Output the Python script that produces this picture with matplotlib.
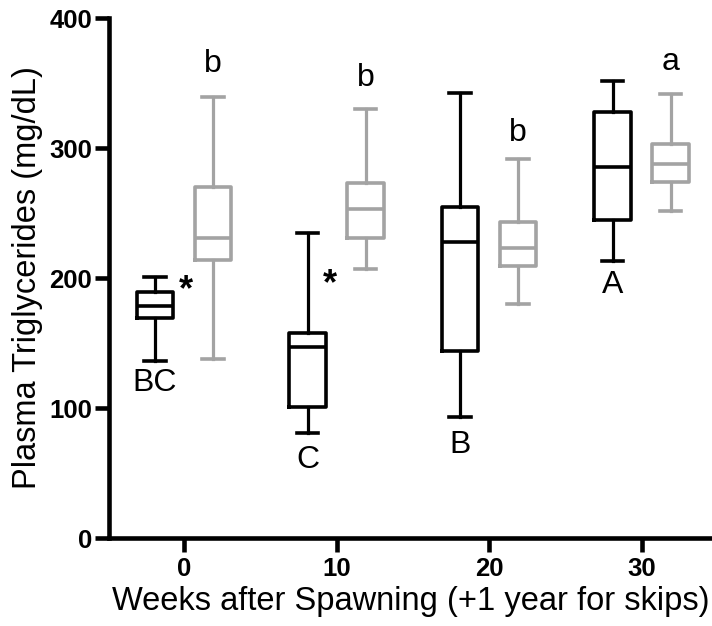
import matplotlib
matplotlib.use('Agg')
import matplotlib.pyplot as plt

plt.rcParams['font.family'] = ['Liberation Sans', 'DejaVu Sans']

# ---- data ----
weeks = [0, 10, 20, 30]
black_lo = [136.5, 81, 93, 213]
black_q1 = [169, 101, 144, 245]
black_med = [178.5, 147, 228, 285.5]
black_q3 = [189, 157.5, 254.5, 327.5]
black_hi = [200.5, 234.5, 342, 351.5]

gray_lo = [138, 207, 180, 251.5]
gray_q1 = [214, 231, 209, 274]
gray_med = [231, 253, 223, 287.5]
gray_q3 = [270, 273, 243, 303]
gray_hi = [339, 330, 291.5, 341.5]

black_letters = ['BC', 'C', 'B', 'A']
black_letter_y = [119, 60, 71.5, 194.5]
gray_letters = ['b', 'b', 'b', 'a']
gray_letter_y = [365, 354, 311.5, 366]
star_x = [0.15, 9.55]
star_y = [190, 194.5]
yticks = [0, 100, 200, 300, 400]
xticks = [0, 10, 20, 30]

offset = 1.9
bw = 2.4
capw = 1.4

fig = plt.figure(figsize=(7.12, 6.26), dpi=100)
ax = fig.add_axes([109/712, 88/626, 603/712, 520/626])

def stats(lo, q1, med, q3, hi):
    return [dict(whislo=a, q1=b, med=c, q3=d, whishi=e, fliers=[])
            for a, b, c, d, e in zip(lo, q1, med, q3, hi)]

for st, pos, col in [
    (stats(black_lo, black_q1, black_med, black_q3, black_hi), [w - offset for w in weeks], 'black'),
    (stats(gray_lo, gray_q1, gray_med, gray_q3, gray_hi), [w + offset for w in weeks], '#a3a3a3'),
]:
    ax.bxp(st, positions=pos, widths=bw, capwidths=capw, showfliers=False,
           manage_ticks=False, patch_artist=False,
           boxprops=dict(color=col, linewidth=2.6),
           medianprops=dict(color=col, linewidth=2.6),
           whiskerprops=dict(color=col, linewidth=2.3),
           capprops=dict(color=col, linewidth=2.6))

for w, t, y in zip(weeks, black_letters, black_letter_y):
    ax.text(w - offset, y, t, ha='center', va='center', fontsize=23)
for w, t, y in zip(weeks, gray_letters, gray_letter_y):
    ax.text(w + offset, y, t, ha='center', va='center', fontsize=23)
for x, y in zip(star_x, star_y):
    ax.text(x, y, '*', ha='center', va='center', fontsize=26, fontweight='bold')

ax.set_xlim(-4.92, 34.62)
ax.set_ylim(0, 400)
ax.set_xticks(xticks)
ax.set_yticks(yticks)
ax.spines['top'].set_visible(False)
ax.spines['right'].set_visible(False)
for s in ['left', 'bottom']:
    ax.spines[s].set_linewidth(3.3)
ax.tick_params(axis='both', width=3.3, length=10, labelsize=18.5)
ax.tick_params(axis='y', pad=2)
ax.tick_params(axis='x', pad=4)
for lbl in ax.get_xticklabels() + ax.get_yticklabels():
    lbl.set_fontweight('bold')

ax.set_xlabel('Weeks after Spawning (+1 year for skips)', fontsize=23.5, labelpad=3)
ax.set_ylabel('Plasma Triglycerides (mg/dL)', fontsize=23.5, labelpad=5)

fig.savefig('out.png', dpi=100)
